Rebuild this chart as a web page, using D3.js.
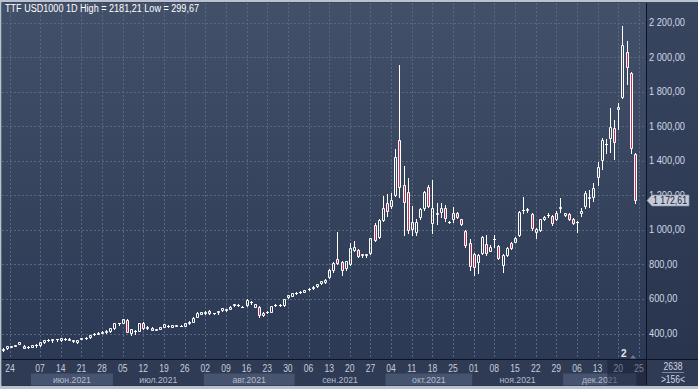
<!DOCTYPE html>
<html>
<head>
<meta charset="utf-8">
<script src="https://cdn.jsdelivr.net/npm/d3@7"></script>
<style>
    body { margin: 0; background: #b9c2d0; }
    svg { display: block; font-family: 'Liberation Sans', Arial, sans-serif; }
</style>
</head>
<body>
<svg id="canvas" width="698" height="389"></svg>
<script>
// trading days shown on the chart
let dates = [
    '2021-05-24','2021-05-25','2021-05-26','2021-05-27','2021-05-28','2021-05-31',
    '2021-06-01','2021-06-02','2021-06-03','2021-06-04','2021-06-07','2021-06-08','2021-06-09','2021-06-10','2021-06-11',
    '2021-06-14','2021-06-15','2021-06-16','2021-06-17','2021-06-18','2021-06-21','2021-06-22','2021-06-23','2021-06-24','2021-06-25',
    '2021-06-28','2021-06-29','2021-06-30',
    '2021-07-01','2021-07-02','2021-07-05','2021-07-06','2021-07-07','2021-07-08','2021-07-09','2021-07-12','2021-07-13','2021-07-14',
    '2021-07-15','2021-07-16','2021-07-19','2021-07-20','2021-07-21','2021-07-22','2021-07-23','2021-07-26','2021-07-27','2021-07-28',
    '2021-07-29','2021-07-30',
    '2021-08-02','2021-08-03','2021-08-04','2021-08-05','2021-08-06','2021-08-09','2021-08-10','2021-08-11','2021-08-12','2021-08-13',
    '2021-08-16','2021-08-17','2021-08-18','2021-08-19','2021-08-20','2021-08-23','2021-08-24','2021-08-25','2021-08-26','2021-08-27',
    '2021-08-30','2021-08-31',
    '2021-09-01','2021-09-02','2021-09-03','2021-09-06','2021-09-07','2021-09-08','2021-09-09','2021-09-10','2021-09-13','2021-09-14',
    '2021-09-15','2021-09-16','2021-09-17','2021-09-20','2021-09-21','2021-09-22','2021-09-23','2021-09-24','2021-09-27','2021-09-28',
    '2021-09-29','2021-09-30',
    '2021-10-01','2021-10-04','2021-10-05','2021-10-06','2021-10-07','2021-10-08','2021-10-11','2021-10-12','2021-10-13','2021-10-14',
    '2021-10-15','2021-10-18','2021-10-19','2021-10-20','2021-10-21','2021-10-22','2021-10-25','2021-10-26','2021-10-27','2021-10-28',
    '2021-10-29',
    '2021-11-01','2021-11-02','2021-11-03','2021-11-04','2021-11-05','2021-11-08','2021-11-09','2021-11-10','2021-11-11','2021-11-12',
    '2021-11-15','2021-11-16','2021-11-17','2021-11-18','2021-11-19','2021-11-22','2021-11-23','2021-11-24','2021-11-25','2021-11-26',
    '2021-11-29','2021-11-30',
    '2021-12-01','2021-12-02','2021-12-03','2021-12-06','2021-12-07','2021-12-08','2021-12-09','2021-12-10','2021-12-13','2021-12-14',
    '2021-12-15','2021-12-16','2021-12-17','2021-12-20','2021-12-21','2021-12-22','2021-12-23','2021-12-24'
]

let opens = [306,
    303,314,324,330,341,330,320,324,333,334,
    350,361,365,367,372,368,370,360,350,368,
    373,377,395,400,405,410,412,430,458,461,
    478,405,417,416,463,430,434,423,428,439,
    442,439,447,445,445,459,468,497,513,517,
    532,517,524,534,536,544,565,566,556,565,
    580,555,555,505,525,526,564,564,565,610,
    619,634,640,642,655,662,674,690,700,725,
    765,830,815,780,800,885,883,857,857,865,
    1028,960,1057,1157,1140,1202,1520,1260,1221,1003,
    990,1076,1124,1250,1041,1093,1105,1124,1046,1060,
    1100,1060,993,925,860,816,868,918,880,945,
    907,796,854,926,931,970,1113,1117,1092,990,
    999,1061,1084,1080,1063,1128,1086,1092,1063,1046,
    1095,1138,1186,1192,1304,1404,1495,1530,1587,1697,
    1767,2031,1906,1437]

let highs = [312,
    318,328,327,333,350,333,326,333,337,352,
    364,368,369,371,374,376,372,364,364,374,
    382,393,403,408,412,418,433,461,462,486,
    482,426,421,462,466,442,437,428,440,457,
    447,451,450,449,461,470,494,522,526,528,
    535,520,531,548,544,557,573,570,558,598,
    590,573,558,522,533,561,568,568,600,625,
    634,638,644,654,664,674,688,706,716,772,
    812,990,820,822,922,935,890,862,862,952,
    1040,1065,1196,1207,1211,1468,1954,1370,1298,1140,
    1060,1125,1225,1258,1288,1158,1153,1143,1052,1134,
    1105,1065,998,945,865,860,965,970,910,970,
    912,860,900,930,960,1110,1192,1125,1100,1008,
    1065,1080,1095,1085,1110,1182,1100,1097,1070,1052,
    1125,1225,1230,1270,1395,1530,1524,1703,1635,1732,
    2181.21,2092,1912,1445]

let lows = [301,
    299.67,311,321,327,338,315,317,322,320,330,
    347,356,352,356,357,362,360,353,345,366,
    370,374,392,396,402,405,408,428,450,458,
    408,391,396,414,428,427,418,419,425,436,
    438,436,441,442,442,456,465,494,510,514,
    515,513,512,530,533,540,561,558,552,562,
    572,552,495,500,518,523,558,560,562,605,
    615,626,632,638,650,658,670,684,695,720,
    758,805,740,770,795,875,845,840,840,860,
    935,955,1050,1080,1125,1196,1188,970,983,970,
    970,1065,1115,1130,984,1032,1076,1050,1040,1047,
    1068,1028,899,767,738,748,860,855,875,903,
    830,758,850,890,928,965,1095,1105,1000,950,
    995,1055,1075,1030,1058,1105,1080,1055,1035,990,
    1080,1125,1134,1165,1260,1350,1447,1452,1408,1582,
    1761,1844,1447,1153]

let closes = [304,
    308,326,325,331,348,318,323,331,335,349,
    362,363,367,369,360,370,362,358,362,372,
    376,391,400,404,410,415,430,458,459,482,
    410,424,416,459,430,439,420,425,437,455,
    444,449,446,446,459,468,492,520,524,526,
    517,518,528,546,542,555,571,565,555,594,
    583,571,505,520,526,559,565,566,598,623,
    632,636,642,652,660,672,686,702,712,770,
    808,810,770,820,893,900,850,859,858,950,
    941,1057,1125,1110,1173,1423,1250,1163,999,1047,
    1047,1119,1221,1140,1128,1097,1128,1067,1048,1100,
    1072,1032,912,790,783,854,957,868,903,948,
    835,854,893,893,955,1105,1116,1119,1009,1003,
    1061,1076,1087,1038,1100,1131,1095,1063,1041,1048,
    1111,1211,1188,1240,1365,1520,1497,1593,1510,1713,
    2070,1940,1472,1172.61]

let priceTicks = [400, 600, 800, 1000, 1200, 1400, 1600, 1800, 2000, 2200]

// weekly labels on the time axis ('2021-12-25' is the empty slot after the last bar)
let tickDates = ['2021-05-24','2021-06-07','2021-06-14','2021-06-21','2021-06-28','2021-07-05','2021-07-12','2021-07-19',
    '2021-07-26','2021-08-02','2021-08-09','2021-08-16','2021-08-23','2021-08-30','2021-09-06','2021-09-13','2021-09-20',
    '2021-09-27','2021-10-04','2021-10-11','2021-10-18','2021-10-25','2021-11-01','2021-11-08','2021-11-15','2021-11-22',
    '2021-11-29','2021-12-06','2021-12-13','2021-12-20','2021-12-25']

let monthKeys = ['2021-06','2021-07','2021-08','2021-09','2021-10','2021-11','2021-12']
let monthNames = ['июн.2021','июл.2021','авг.2021','сен.2021','окт.2021','ноя.2021','дек.2021']

let instrument = 'TTF USD1000 1D'
let visibleBars = 156
let footerCount = 2638

let svg = d3.select('#canvas')

let plotL = 2, plotR = 646, plotT = 3, plotB = 359, axisB = 385

let locale = d3.formatLocale({decimal: ',', thousands: '\u00a0', grouping: [3], currency: ['', '']})
let fmtAxis = locale.format(',.2f')
let fmtPlain = locale.format('.2f')

let xScale = d3.scaleLinear().domain([0, dates.length]).range([-1.2, 638.9])
let yScale = d3.scaleLinear().domain([400, 2200]).range([333.5, 22.5])

let idx = (d) => {
    let i = dates.indexOf(d)
    return i < 0 ? dates.length : i
}

// the terminal font is narrower than ours: squeeze a group of texts so that
// a sample string gets the width it has on the screenshot
let squeezeTo = (sel, sample, width) => {
    let probe = svg.append('text').attr('font-size', sel.attr('font-size')).text(sample)
    let k = width / probe.node().getComputedTextLength()
    probe.remove()
    sel.each(function () {
        let w = this.getComputedTextLength()
        d3.select(this).attr('textLength', w * k).attr('lengthAdjust', 'spacingAndGlyphs')
    })
}

// gradients
let defs = svg.append('defs')
let grad = defs.append('linearGradient').attr('id', 'plotBg').attr('x1', 0).attr('y1', 0).attr('x2', 0).attr('y2', 1)
grad.append('stop').attr('offset', '0%').attr('stop-color', '#435069')
grad.append('stop').attr('offset', '100%').attr('stop-color', '#2c3954')
let grad2 = defs.append('linearGradient').attr('id', 'axisBg').attr('x1', 0).attr('y1', 0).attr('x2', 0).attr('y2', 1)
grad2.append('stop').attr('offset', '0%').attr('stop-color', '#38455f')
grad2.append('stop').attr('offset', '100%').attr('stop-color', '#29354f')
defs.append('clipPath').attr('id', 'plotClip')
    .append('rect').attr('x', plotL).attr('y', plotT).attr('width', plotR - plotL).attr('height', plotB - plotT)

// frame and backgrounds
svg.append('rect').attr('x', 0).attr('y', 0).attr('width', 698).attr('height', 389).attr('fill', '#b9c2d0')
svg.append('rect').attr('x', 1.5).attr('y', 2.3).attr('width', 697).attr('height', axisB - 1.5).attr('fill', '#0d1322')
svg.append('rect').attr('x', plotL).attr('y', plotT).attr('width', plotR - plotL).attr('height', plotB - plotT).attr('fill', 'url(#plotBg)')
svg.append('rect').attr('x', plotR + 1).attr('y', plotT).attr('width', 698 - plotR - 1).attr('height', plotB - plotT).attr('fill', 'url(#axisBg)')
svg.append('rect').attr('x', plotL).attr('y', plotB + 1).attr('width', plotR - plotL).attr('height', axisB - plotB - 1).attr('fill', '#2f3a54')
svg.append('rect').attr('x', plotR + 1).attr('y', plotB + 1).attr('width', 698 - plotR - 1).attr('height', axisB - plotB - 1).attr('fill', '#2f3a54')

// grid
let grid = svg.append('g').attr('clip-path', 'url(#plotClip)')
    .attr('stroke', '#5a6783').attr('stroke-width', 1).attr('stroke-dasharray', '2,2')

let tickX = (d, i) => i === 0 ? Math.max(xScale(idx(d)), 10) : xScale(idx(d))

grid.selectAll('.hgrid')
    .data(priceTicks)
    .enter()
    .append('line')
    .attr('x1', plotL).attr('x2', plotR)
    .attr('y1', (d) => Math.round(yScale(d)) + 0.5)
    .attr('y2', (d) => Math.round(yScale(d)) + 0.5)

grid.selectAll('.vgrid')
    .data(tickDates)
    .enter()
    .append('line')
    .attr('y1', plotT).attr('y2', plotB)
    .attr('x1', (d, i) => Math.round(tickX(d, i)) + 0.5)
    .attr('x2', (d, i) => Math.round(tickX(d, i)) + 0.5)

// candles
let candles = dates.map((d, i) => ({date: d, i: i, o: opens[i], h: highs[i], l: lows[i], c: closes[i]}))

let plot = svg.append('g').attr('clip-path', 'url(#plotClip)')

plot.selectAll('.wick')
    .data(candles)
    .enter()
    .append('path')
    .attr('class', 'wick')
    .attr('stroke', '#ffffff')
    .attr('fill', 'none')
    .attr('d', (d) => {
        let cx = Math.round(xScale(d.i)) + 0.5
        let yt = Math.round(yScale(Math.max(d.o, d.c)))
        let yb = Math.round(yScale(Math.min(d.o, d.c)))
        let yh = Math.round(yScale(d.h))
        let yl = Math.round(yScale(d.l))
        return 'M' + cx + ',' + yh + 'V' + yt + 'M' + cx + ',' + (yb + 1) + 'V' + (yl + 1)
    })

plot.selectAll('.body')
    .data(candles)
    .enter()
    .append('path')
    .attr('class', 'body')
    .attr('stroke', '#ffffff')
    .attr('stroke-width', 1)
    .attr('fill', (d) => d.c < d.o ? '#c8305a' : 'none')
    .attr('d', (d) => {
        let cx = Math.round(xScale(d.i))
        let yt = Math.round(yScale(Math.max(d.o, d.c)))
        let yb = Math.round(yScale(Math.min(d.o, d.c)))
        if (yb - yt < 1) {
            return 'M' + (cx - 1) + ',' + (yt + 0.5) + 'H' + (cx + 2)
        }
        return 'M' + (cx - 0.5) + ',' + (yt + 0.5) + 'H' + (cx + 1.5) + 'V' + (yb + 0.5) + 'H' + (cx - 0.5) + 'Z'
    })

// separator lines
svg.append('line').attr('x1', plotR + 0.5).attr('x2', plotR + 0.5).attr('y1', plotT).attr('y2', axisB).attr('stroke', '#0d1322')
svg.append('line').attr('x1', plotL).attr('x2', 698).attr('y1', plotB + 0.5).attr('y2', plotB + 0.5).attr('stroke', '#0d1322')

// price axis (1 200,00 sits under the last-price tag, as in the terminal)
let last = closes[closes.length - 1]
let ly = Math.round(yScale(last)) + 0.5

let yLabels = svg.selectAll('.ylabel')
    .data(priceTicks)
    .enter()
    .append('text')
    .attr('x', 649)
    .attr('y', (d) => yScale(d) + 3.5)
    .attr('font-size', '10px')
    .attr('fill', '#d0d7e3')
    .text((d) => fmtAxis(d))
squeezeTo(yLabels, fmtAxis(2200), 36)

// last price tag
svg.append('path')
    .attr('d', 'M647,' + ly + 'L652,' + (ly - 5.5) + 'H689V' + (ly + 5.5) + 'H652Z')
    .attr('fill', '#c4cbd7').attr('stroke', '#8c96a8').attr('stroke-width', 0.6)
let tag = svg.append('text')
    .attr('x', 653).attr('y', ly + 3.5)
    .attr('font-size', '10px').attr('fill', '#18223a')
    .text(fmtAxis(last))
squeezeTo(tag, fmtAxis(2200), 34)

// month bands
let bandG = svg.append('g')
monthKeys.forEach((key, m) => {
    let first = dates.findIndex((d) => d.startsWith(key))
    let nextKey = monthKeys[m + 1]
    let x0 = xScale(first) - 1.5
    let x1 = nextKey ? xScale(dates.findIndex((d) => d.startsWith(nextKey))) - 1.5 : xScale(dates.length - 1) + 1.5
    if (m === 0) x0 = Math.max(x0, 31) // first band starts after the clipped first label
    if (m % 2 === 0) {
        bandG.append('rect').attr('x', x0).attr('y', 373.5).attr('width', x1 - x0).attr('height', 12).attr('fill', '#47546f')
    }
    bandG.append('text')
        .attr('class', 'mlabel')
        .attr('x', (x0 + x1) / 2).attr('y', 382.5)
        .attr('text-anchor', 'middle')
        .attr('font-size', '9.5px').attr('fill', '#b3bccc')
        .text(monthNames[m])
})
squeezeTo(bandG.selectAll('.mlabel'), monthNames[0], 38)

// day labels
let xLabels = svg.selectAll('.xlabel')
    .data(tickDates)
    .enter()
    .append('text')
    .attr('x', (d, i) => tickX(d, i))
    .attr('y', 372)
    .attr('text-anchor', 'middle')
    .attr('font-size', '10px')
    .attr('fill', '#c6cedb')
    .text((d) => d.slice(8))
squeezeTo(xLabels, '07', 9.5)

// darker scroll area over the last days
let shadeX = xScale(idx('2021-12-15')) + 1.5
svg.append('rect')
    .attr('x', shadeX).attr('y', plotB + 1)
    .attr('width', plotR - shadeX).attr('height', axisB - plotB - 1)
    .attr('fill', '#141c30').attr('opacity', 0.45)
svg.append('text')
    .attr('x', xScale(idx('2021-12-21')) + 1.5).attr('y', 356.5)
    .attr('text-anchor', 'middle').attr('font-size', '10px').attr('font-weight', 'bold')
    .attr('fill', '#e4e8ef')
    .text('2')
let triX = Math.round(xScale(idx('2021-12-23'))) + 2
svg.append('path')
    .attr('d', 'M' + (triX - 3) + ',358.5L' + triX + ',355L' + (triX + 3) + ',358.5Z')
    .attr('fill', '#6d7890')

// bottom right counters
let counters = svg.append('g')
counters.append('text')
    .attr('x', 673).attr('y', 370)
    .attr('text-anchor', 'middle').attr('font-size', '10px').attr('fill', '#d0d7e3')
    .text(footerCount)
counters.append('text')
    .attr('x', 673).attr('y', 383)
    .attr('text-anchor', 'middle').attr('font-size', '10px').attr('fill', '#d0d7e3')
    .text('>' + visibleBars + '<')
squeezeTo(counters.selectAll('text'), String(footerCount), 19)
svg.append('line').attr('x1', 662).attr('x2', 684).attr('y1', 372.5).attr('y2', 372.5).attr('stroke', '#7c879c')

// title
svg.append('text')
    .attr('x', 5).attr('y', 12)
    .attr('font-size', '10px')
    .attr('fill', '#ffffff')
    .attr('textLength', 194)
    .attr('lengthAdjust', 'spacingAndGlyphs')
    .text(instrument + ' High = ' + fmtPlain(d3.max(highs)) + ' Low = ' + fmtPlain(d3.min(lows)))
</script>
</body>
</html>
